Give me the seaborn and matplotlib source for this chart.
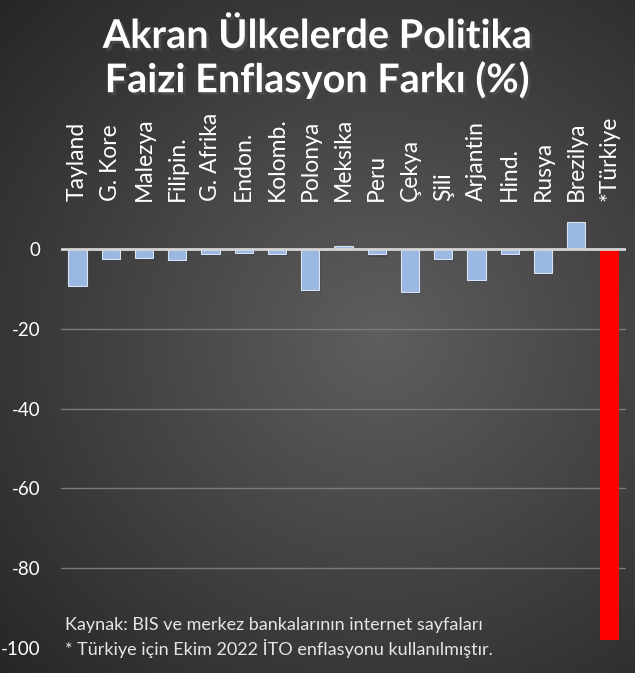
import numpy as np
import matplotlib
matplotlib.use("Agg")
import matplotlib.pyplot as plt
import matplotlib.patheffects as pe
import seaborn as sns
import pandas as pd

categories = ["Tayland", "G. Kore", "Malezya", "Filipin.", "G. Afrika", "Endon.",
              "Kolomb.", "Polonya", "Meksika", "Peru", "Çekya", "Şili",
              "Arjantin", "Hind.", "Rusya", "Brezilya", "*Türkiye"]
values = [-9.2, -2.6, -2.2, -2.7, -1.2, -1.1, -1.3, -10.4, 0.7, -1.4, -10.9,
          -2.6, -7.7, -1.3, -6.1, 6.7, -97.9]
yticks = [0, -20, -40, -60, -80, -100]

title_lines = "Akran Ülkelerde Politika\nFaizi Enflasyon Farkı (%)"
note1 = "Kaynak: BIS ve merkez bankalarının internet sayfaları"
note2 = "* Türkiye için Ekim 2022 İTO enflasyonu kullanılmıştır."

sns.set_theme(style="dark")
plt.rcParams['font.family'] = ['Lato', 'DejaVu Sans']

W, H = 635, 673
fig = plt.figure(figsize=(W / 100, H / 100), dpi=100)

# background radial gradient
bg = fig.add_axes([0, 0, 1, 1], zorder=-10)
yy, xx = np.mgrid[0:1:300j, 0:1:300j]
r = np.sqrt(((xx - 0.6) / 0.9) ** 2 + ((yy - 0.5) / 0.8) ** 2)
g = np.clip(0.37 - 0.24 * r, 0.14, 0.4)
bg.imshow(np.dstack([g, g, g]), extent=[0, 1, 0, 1], aspect='auto', origin='lower')
bg.axis('off')

ax = fig.add_axes([61 / W, (H - 648) / H, (626 - 61) / W, (648 - 201) / H])
ax.set_facecolor((0, 0, 0, 0))

df = pd.DataFrame({"cat": categories, "val": values})
colors = ["#9bb8e2"] * (len(categories) - 1) + ["#ff0000"]
sns.barplot(data=df, x="cat", y="val", hue="cat", palette=colors, legend=False,
            width=0.55, ax=ax, saturation=1, zorder=3)
for i, p in enumerate(ax.patches):
    if i < len(categories) - 1:
        p.set_edgecolor("#d8e4f4")
        p.set_linewidth(0.8)
        p.set_path_effects([pe.SimplePatchShadow(offset=(1, -1.5), alpha=0.5), pe.Normal()])
    else:
        p.set_edgecolor("none")

ax.set_ylim(-100, 12)
ax.set_xlim(-0.5, len(categories) - 0.5)
ax.set_yticks(yticks)
ax.set_yticklabels([str(v) for v in yticks], color="white", fontsize=13.5)
ax.tick_params(axis='y', length=0, pad=15)
ax.xaxis.tick_top()
ax.tick_params(axis='x', length=0, pad=0, labelsize=16.5, labelcolor="white", rotation=90)
ax.set_xlabel("")
ax.set_ylabel("")
for s in ax.spines.values():
    s.set_visible(False)
ax.grid(False)
for v in yticks[1:-1]:
    ax.axhline(v, color="#7a7a7a", lw=1, zorder=1)
ax.axhline(0, color="#d4d4d4", lw=2, zorder=4)

fig.text(0.5, 0.913, title_lines, ha="center", va="center", color="white",
         fontsize=28.5, fontweight="bold", linespacing=1.18,
         path_effects=[pe.SimplePatchShadow(offset=(2, -2), alpha=0.8), pe.Normal()])

fig.text(65 / W, 1 - 625 / H, note1, color="#e6e6e6", fontsize=13, va="center", ha="left")
fig.text(65 / W, 1 - 648 / H, note2, color="#e6e6e6", fontsize=13, va="center", ha="left")

fig.savefig("out.png", dpi=100)
